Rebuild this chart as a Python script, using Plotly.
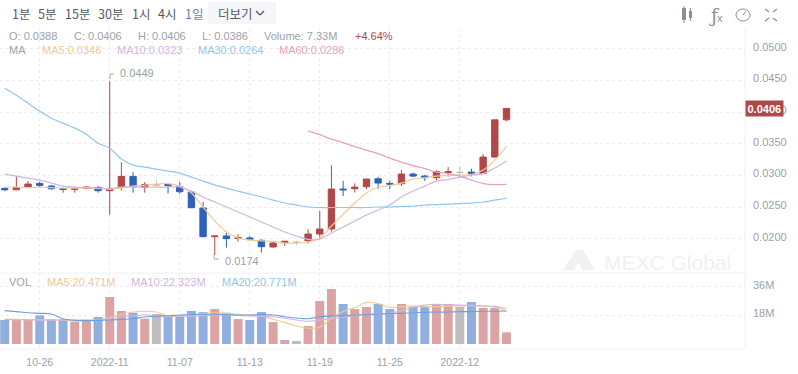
import pandas as pd
import plotly.graph_objects as go

W, H = 798, 374
dates = pd.date_range("2022-10-23", periods=44, freq="D")

opens = [.02795,.02774,.02816,.02874,.02832,.02790,.02780,.02795,.02811,.02759,.02811,.02985,.02811,.02848,.02859,.02822,.02738,.02485,.02032,.02043,.02006,.02011,.01974,.01869,.01938,.01943,.01969,.02074,.02153,.02785,.02790,.02822,.02948,.02874,.02869,.03022,.02990,.02964,.03043,.03048,.03053,.03032,.03290,.0388]
highs = [.02811,.02990,.02911,.02901,.02848,.02811,.02822,.02832,.02827,.0449,.03211,.03053,.02895,.02927,.02874,.02895,.02753,.02580,.02048,.02101,.02069,.02043,.01990,.01948,.01969,.01969,.02148,.02438,.03159,.02916,.02874,.02948,.02974,.02916,.03085,.03048,.03011,.03085,.03132,.03148,.03106,.03338,.03880,.0406]
lows = [.02753,.02769,.02811,.02816,.02774,.02727,.02727,.02780,.02727,.02380,.02759,.02727,.02727,.02832,.02716,.02711,.02485,.02022,.0174,.01859,.01953,.01974,.0178,.01859,.01885,.01901,.01922,.01990,.02111,.02674,.02732,.02785,.02790,.02785,.02832,.02969,.02911,.02927,.02980,.02969,.02985,.03022,.03290,.0386]
closes = [.02774,.02811,.02864,.02843,.02790,.02780,.02790,.02816,.02759,.02795,.02985,.02822,.02859,.02848,.02838,.02743,.02490,.02032,.02043,.02001,.02016,.01985,.01874,.01932,.01959,.01943,.02074,.02153,.02785,.02774,.02816,.02943,.02880,.02864,.03022,.02990,.02964,.03059,.03059,.03048,.03027,.03290,.03880,.0406]

ma5 = [.02817,.02817,.02809,.02817,.02809,.02801,.02801,.02801,.02793,.02785,.02801,.02832,.02848,.02864,.02872,.02832,.02722,.02501,.02280,.02106,.02011,.01980,.01964,.01956,.01932,.01932,.01948,.02011,.02201,.02390,.02564,.02722,.02817,.02840,.02880,.02943,.02966,.02990,.02998,.03006,.03013,.03085,.03243,.0346]
ma10 = [.03022,.02990,.02959,.02927,.02880,.02832,.02817,.02809,.02801,.02793,.02817,.02817,.02817,.02817,.02817,.02817,.02753,.02659,.02580,.02501,.02422,.02343,.02264,.02185,.02106,.02043,.01988,.01995,.02090,.02185,.02280,.02374,.02453,.02532,.02659,.02753,.02832,.02911,.02935,.02974,.03006,.03030,.03117,.0323]
ma30 = [.04380,.04269,.04143,.04017,.03906,.03827,.03748,.03653,.03511,.03432,.03259,.03164,.03132,.03101,.03069,.03038,.02974,.02911,.02848,.02801,.02753,.02706,.02659,.02611,.02564,.02532,.02501,.02493,.02493,.02493,.02493,.02493,.02501,.02501,.02509,.02516,.02532,.02540,.02548,.02556,.02564,.02580,.02611,.0264]
ma60 = [None]*26 + [.03701,.03645,.03574,.03519,.03456,.03401,.03345,.03274,.03211,.03156,.03109,.03053,.03030,.02990,.02927,.02872,.02856,.0286]

volume = [15.1,15.1,15.5,18.0,15.5,15.5,14.1,14.5,17.0,29.6,20.8,19.7,15.9,18.9,17.2,18.0,20.8,20.1,22.0,19.7,15.7,15.1,20.1,13.8,2.5,1.9,11.3,27.1,34.6,25.2,22.0,23.3,25.2,22.0,25.2,23.5,23.5,25.2,25.2,23.5,26.4,22.7,22.7,7.33]
vol_ma5 = [15.5,15.5,15.3,15.3,15.1,15.1,14.9,14.9,15.1,16.6,18.7,20.1,20.6,20.1,17.6,17.4,18.3,19.3,19.7,19.3,18.7,18.0,17.6,15.5,13.6,11.3,9.9,10.5,16.2,20.4,22.9,26.2,25.4,23.1,23.5,23.9,23.5,23.5,23.7,24.1,24.3,23.9,23.2,20.47]
vol_ma10 = [15.5,15.3,15.3,15.1,15.1,15.1,15.1,15.1,15.3,15.9,17.0,17.8,18.3,18.0,17.8,17.6,17.6,17.8,18.0,18.3,18.0,17.6,17.4,17.2,16.2,15.1,14.3,15.1,15.9,16.8,17.8,18.7,19.1,19.3,21.0,23.1,24.5,25.0,24.7,24.5,24.1,23.9,23.7,22.32]
vol_ma20 = [21.0,20.4,19.7,19.3,18.9,15.9,14.9,14.7,14.9,15.1,15.5,15.9,17.0,17.4,17.8,18.3,18.5,18.7,18.7,18.5,18.3,18.3,18.5,18.3,17.2,16.4,15.9,17.2,17.6,17.8,18.3,18.5,18.9,19.1,19.3,19.7,19.9,20.1,20.1,20.4,20.4,20.6,20.6,20.77]

x_ticks = ["2022-10-26","2022-11-01","2022-11-07","2022-11-13","2022-11-19","2022-11-25","2022-12-01"]
x_labels = ["10-26","2022-11","11-07","11-13","11-19","11-25","2022-12"]
price_ticks = [.02,.025,.03,.035,.04,.045,.05]
price_labels = ["0.0200","0.0250","0.0300","0.0350","0.0400","0.0450","0.0500"]
vol_ticks = [18,36]
vol_labels = ["18M","36M"]

RED, BLUE, GRAY = "#b0484a", "#2d62b8", "#bdbdbd"
VRED, VBLUE = "#dba3a3", "#90aede"
C5, C10, C30, C60 = "#f6c892", "#cfb6e2", "#93c6ea", "#e6a0c2"
TXT, GRID, FRAME = "#9ba1a8", "#ececec", "#eef0f2"
SANS = "Arial, Liberation Sans, Noto Sans CJK KR, sans-serif"
KR = "Noto Sans CJK KR, Arial, sans-serif"

fig = go.Figure()
normal = [i for i in range(44) if opens[i] != closes[i]]
doji = [i for i in range(44) if opens[i] == closes[i]]
pick = lambda a, idx: [a[i] for i in idx]

fig.add_trace(go.Candlestick(
    x=pick(dates, normal), open=pick(opens, normal), high=pick(highs, normal),
    low=pick(lows, normal), close=pick(closes, normal), whiskerwidth=0,
    increasing=dict(line=dict(color=RED, width=1), fillcolor=RED),
    decreasing=dict(line=dict(color=BLUE, width=1), fillcolor=BLUE),
    xaxis="x", yaxis="y"))
fig.add_trace(go.Candlestick(
    x=pick(dates, doji), open=pick(opens, doji), high=pick(highs, doji),
    low=pick(lows, doji), close=pick(closes, doji), whiskerwidth=0,
    increasing=dict(line=dict(color=GRAY, width=1), fillcolor=GRAY),
    decreasing=dict(line=dict(color=GRAY, width=1), fillcolor=GRAY),
    xaxis="x", yaxis="y"))
for vals, col in [(ma5, C5), (ma10, C10), (ma30, C30), (ma60, C60)]:
    fig.add_trace(go.Scatter(x=dates, y=vals, mode="lines", line=dict(color=col, width=1.2, shape="spline"),
                             xaxis="x", yaxis="y"))

bar_colors = [GRAY if c == o else (VRED if c > o else VBLUE) for o, c in zip(opens, closes)]
fig.add_trace(go.Bar(x=dates, y=volume, marker=dict(color=bar_colors, line=dict(width=0)),
                     width=0.77*86400000, xaxis="x2", yaxis="y2"))
for vals, col in [(vol_ma5, C5), (vol_ma10, C10), (vol_ma20, "#6f9fdc")]:
    fig.add_trace(go.Scatter(x=dates, y=vals, mode="lines", line=dict(color=col, width=1.1, shape="spline"),
                             xaxis="x2", yaxis="y2"))

px = lambda v: v / W
py = lambda v: 1 - v / H
ann = []
def label(x, y, text, color=TXT, size=11, font=SANS, anchor="left"):
    ann.append(dict(xref="paper", yref="paper", x=px(x), y=py(y), text=text, showarrow=False,
                    xanchor=anchor, yanchor="middle", align="left",
                    font=dict(color=color, size=size, family=font), borderpad=0))

for x, t, c in [(11,"1분","#555b63"),(37,"5분","#555b63"),(64,"15분","#555b63"),(97,"30분","#555b63"),
                (131,"1시","#555b63"),(157,"4시","#555b63"),(184,"1일","#5f7fb5"),(217,"더보기","#555b63")]:
    label(x, 13, t, c, 12.5, KR)
for x, t, c in [(8,"O: 0.0388",TXT),(73,"C: 0.0406",TXT),(137,"H: 0.0406",TXT),(201,"L: 0.0386",TXT),
                (263,"Volume: 7.33M",TXT),(354,"+4.64%",RED)]:
    label(x, 36, t, c)
for x, t, c in [(8,"MA",TXT),(41,"MA5:0.0346",C5),(116,"MA10:0.0323",C10),(197,"MA30:0.0264",C30),(278,"MA60:0.0286",C60)]:
    label(x, 50, t, c)
for x, t, c in [(8,"VOL",TXT),(46,"MA5:20.471M",C5),(130,"MA10:22.323M",C10),(221,"MA20:20.771M",C30)]:
    label(x, 282, t, c)
label(119, 73, "0.0449", TXT)
label(224, 261, "0.0174", TXT)
label(603, 262, "MEXC Global", "#f0f1f3", 21)
label(708, 15, "ƒ", "#8b9097", 19, "DejaVu Serif")
label(716, 18, "x", "#8b9097", 11)
ann.append(dict(xref="paper", yref="paper", x=px(745), y=py(108), text="<b>0.0406</b>", showarrow=False,
                xanchor="left", yanchor="middle", bgcolor=RED, font=dict(color="white", size=11, family=SANS),
                borderpad=1.5))

shapes = []
def line(x0, y0, x1, y1, c="#8b9097", w=1):
    shapes.append(dict(type="line", xref="paper", yref="paper", x0=px(x0), y0=py(y0), x1=px(x1), y1=py(y1),
                       line=dict(color=c, width=w)))
def rect(x0, y0, x1, y1, c):
    shapes.append(dict(type="rect", xref="paper", yref="paper", x0=px(x0), y0=py(y0), x1=px(x1), y1=py(y1),
                       fillcolor=c, line=dict(width=0), layer="below"))
rect(208, 2, 276, 24, "#f5f6f8")
line(256, 11, 260, 15, "#555b63", 1.3); line(260, 15, 264, 11, "#555b63", 1.3)
# frame
line(745, 28, 745, 349, FRAME); line(0, 273, 745, 273, FRAME); line(0, 349, 745, 349, FRAME)
# extreme-price pointers
line(110, 74, 114, 74, "#a5a9ae"); line(110, 74, 110, 79, "#a5a9ae")
line(214, 254, 214, 259, "#a5a9ae"); line(214, 259, 219, 259, "#a5a9ae")
# toolbar icons
rect(682, 8, 686, 20, "#8b9097"); line(684, 6, 684, 23); rect(689, 11, 692, 18, "#8b9097"); line(690.5, 8, 690.5, 21)
shapes.append(dict(type="circle", xref="paper", yref="paper", x0=px(736), y0=py(9), x1=px(750), y1=py(21),
                   line=dict(color="#8b9097", width=1)))
line(743, 15, 746, 11)
for a, b, c, d in [(765,9,769,12),(777,9,773,12),(765,21,769,18),(777,21,773,18)]:
    line(a, b, c, d, "#8b9097", 1.2)
# watermark logo
shapes.append(dict(type="path", xref="paper", yref="paper", fillcolor="#f0f1f3", line=dict(width=0), layer="below",
                   path=f"M {px(563)} {py(270)} L {px(576)} {py(250)} L {px(583)} {py(250)} L {px(595)} {py(270)} L {px(582)} {py(270)} L {px(579)} {py(262)} L {px(574)} {py(270)} Z"))

grid = dict(showgrid=True, gridcolor=GRID, griddash="dot", gridwidth=1, zeroline=False, showline=False, ticks="")
xrange_ = ["2022-10-22 14:20", "2022-12-25 10:34"]
tick_font = dict(size=11, color=TXT, family=SANS)
fig.update_layout(
    width=W, height=H, autosize=False, margin=dict(l=0, r=0, t=0, b=0),
    paper_bgcolor="white", plot_bgcolor="white", showlegend=False, boxgap=0.22, boxmode="overlay",
    hovermode=False, annotations=ann, shapes=shapes, font=dict(family=SANS, size=11, color=TXT),
    xaxis=dict(domain=[0, 745/W], type="date", range=xrange_, anchor="y", tickvals=x_ticks, ticktext=x_labels,
               showticklabels=False, rangeslider=dict(visible=False), **grid),
    yaxis=dict(domain=[1-273/H, 1-28/H], range=[.014575, .05332], side="right", anchor="x", tickfont=tick_font,
               tickvals=price_ticks, ticktext=price_labels, ticklabelstandoff=7, ticklabelshift=-2, **grid),
    xaxis2=dict(domain=[0, 745/W], type="date", range=xrange_, anchor="y2", tickvals=x_ticks, ticktext=x_labels,
                tickfont=dict(size=10.5, color=TXT, family=SANS), ticklabelstandoff=5, **grid),
    yaxis2=dict(domain=[1-349/H, 1-273/H], range=[-3.15, 44.7], side="right", anchor="x2", tickfont=tick_font,
                tickvals=vol_ticks, ticktext=vol_labels, ticklabelstandoff=7, ticklabelshift=-2, **grid),
)
fig.write_html("out.html", config=dict(displayModeBar=False),
               post_script="document.body.style.margin='0';document.body.style.overflow='hidden';")
